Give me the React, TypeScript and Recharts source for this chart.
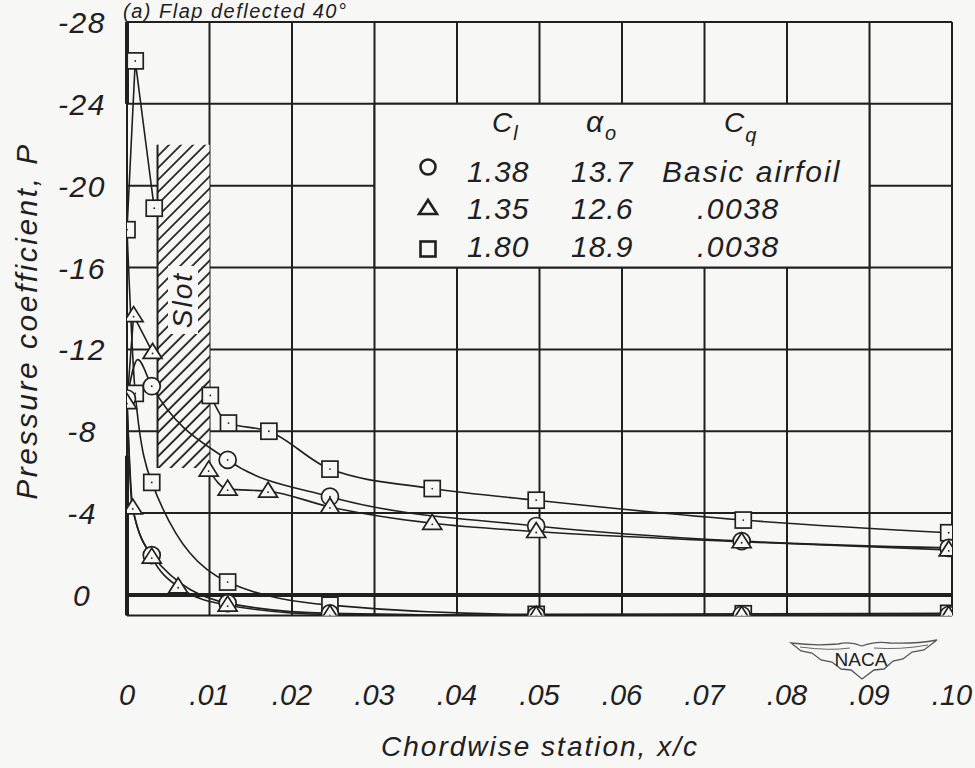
import React from 'react';
import {
  ComposedChart,
  Line,
  Scatter,
  XAxis,
  YAxis,
  CartesianGrid,
  ReferenceArea,
  ReferenceLine,
} from 'recharts';

type Pt = { x: number; p: number };

// ---- axes ----
const xTicks = [0, 0.01, 0.02, 0.03, 0.04, 0.05, 0.06, 0.07, 0.08, 0.09, 0.1];
const xTickLabels = ['0', '.01', '.02', '.03', '.04', '.05', '.06', '.07', '.08', '.09', '.10'];
const yTicks = [-28, -24, -20, -16, -12, -8, -4, 0];
const xDomain: [number, number] = [0, 0.1];
const yDomain: [number, number] = [-28, 1];

// ---- circles: C_l 1.38, alpha 13.7, basic airfoil ----
const circleUpper: Pt[] = [
  { x: 0, p: -9.6 },
  { x: 0.003, p: -10.2 },
  { x: 0.0122, p: -6.6 },
  { x: 0.0246, p: -4.8 },
  { x: 0.0496, p: -3.37 },
  { x: 0.0745, p: -2.63 },
  { x: 0.0996, p: -2.3 },
];
const circleLower: Pt[] = [
  { x: 0.003, p: -1.95 },
  { x: 0.0122, p: 0.4 },
  { x: 0.0246, p: 0.9 },
  { x: 0.0496, p: 1.0 },
  { x: 0.0745, p: 0.98 },
  { x: 0.0996, p: 0.98 },
];
// faired-curve points (no symbol)
const circleUpperTrace: Pt[] = [{ x: 0.0013, p: -11.5 }];
const circleLowerTrace: Pt[] = [{ x: 0.0006, p: -4.4 }];

// ---- triangles: C_l 1.35, alpha 12.6, Cq .0038 ----
const triangleNose: Pt[] = [
  { x: 0, p: -9.4 },
  { x: 0.0008, p: -13.65 },
  { x: 0.0031, p: -11.85 },
];
const triangleUpper: Pt[] = [
  { x: 0.0099, p: -6.1 },
  { x: 0.0122, p: -5.17 },
  { x: 0.0171, p: -5.07 },
  { x: 0.0246, p: -4.3 },
  { x: 0.037, p: -3.5 },
  { x: 0.0496, p: -3.1 },
  { x: 0.0745, p: -2.6 },
  { x: 0.0996, p: -2.2 },
];
const triangleLower: Pt[] = [
  { x: 0.0007, p: -4.25 },
  { x: 0.003, p: -1.85 },
  { x: 0.0062, p: -0.4 },
  { x: 0.0122, p: 0.5 },
  { x: 0.0246, p: 0.95 },
  { x: 0.0496, p: 1.0 },
  { x: 0.0745, p: 1.0 },
  { x: 0.0996, p: 1.0 },
];

// ---- squares: C_l 1.80, alpha 18.9, Cq .0038 ----
const squareNose: Pt[] = [
  { x: 0, p: -17.85 },
  { x: 0.001, p: -26.1 },
  { x: 0.0033, p: -18.9 },
];
const squareUpper: Pt[] = [
  { x: 0.0101, p: -9.75 },
  { x: 0.0123, p: -8.4 },
  { x: 0.0172, p: -8.0 },
  { x: 0.0246, p: -6.15 },
  { x: 0.037, p: -5.2 },
  { x: 0.0496, p: -4.63 },
  { x: 0.0747, p: -3.66 },
  { x: 0.0996, p: -3.04 },
];
const squareLower: Pt[] = [
  { x: 0.001, p: -9.85 },
  { x: 0.003, p: -5.5 },
  { x: 0.0122, p: -0.63 },
  { x: 0.0246, p: 0.5 },
  { x: 0.0496, p: 0.95 },
  { x: 0.0747, p: 0.92 },
  { x: 0.0996, p: 0.9 },
];

// ---- annotations ----
const slotX: [number, number] = [0.0037, 0.01];
const slotP: [number, number] = [-22, -6.2];
const legendBoxX: [number, number] = [0.03, 0.09];
const legendBoxP: [number, number] = [-24, -16];
const noseBarTop: [number, number] = [-28, -24];
const noseBarBottom: [number, number] = [-6.8, 1];

const legendCl = ['1.38', '1.35', '1.80'];
const legendAlpha = ['13.7', '12.6', '18.9'];
const legendCq = ['Basic airfoil', '.0038', '.0038'];

// ---- derived curve tables ----
const byX = (a: Pt[]) => [...a].sort((m, n) => m.x - n.x);
const circleUpperCurve = byX([...circleUpper, ...circleUpperTrace]);
const circleLowerCurve = byX([circleUpper[0], ...circleLowerTrace, ...circleLower]);
const triangleLowerCurve = [triangleNose[0], ...triangleLower];
const squareLowerCurve = [squareNose[0], ...squareLower];

const circleMarks = [...circleUpper, ...circleLower];
const triangleMarks = [...triangleNose, ...triangleUpper, ...triangleLower];
const squareMarks = [...squareNose, ...squareUpper, ...squareLower];

const INK = '#202020';
const BG = '#f7f7f6';
const FONT = '"Liberation Sans", Arial, sans-serif';

const CircleMark = (props: any) => {
  const { cx, cy } = props;
  return (
    <g>
      <circle cx={cx} cy={cy} r={8.5} fill={BG} stroke={INK} strokeWidth={1.7} />
      <circle cx={cx} cy={cy} r={0.9} fill={INK} />
    </g>
  );
};
const TriangleMark = (props: any) => {
  const { cx, cy } = props;
  return (
    <g>
      <polygon
        points={`${cx},${cy - 9} ${cx - 9.5},${cy + 6} ${cx + 9.5},${cy + 6}`}
        fill={BG}
        stroke={INK}
        strokeWidth={1.7}
        strokeLinejoin="miter"
      />
      <circle cx={cx} cy={cy + 1} r={0.9} fill={INK} />
    </g>
  );
};
const SquareMark = (props: any) => {
  const { cx, cy } = props;
  return (
    <g>
      <rect x={cx - 8} y={cy - 8} width={16} height={16} fill={BG} stroke={INK} strokeWidth={1.7} />
      <circle cx={cx} cy={cy} r={0.9} fill={INK} />
    </g>
  );
};

const XTick = (props: any) => {
  const { x, y, payload } = props;
  const i = xTicks.indexOf(payload.value);
  return (
    <text
      x={x}
      y={y + 88}
      textAnchor="middle"
      fontFamily={FONT}
      fontStyle="italic"
      fontSize={29}
      fill={INK}
    >
      {i >= 0 ? xTickLabels[i] : String(payload.value)}
    </text>
  );
};

const YTick = (props: any) => {
  const { x, y, payload } = props;
  return (
    <text
      x={x - 43}
      y={y + 11}
      textAnchor="middle"
      fontFamily={FONT}
      fontStyle="italic"
      fontSize={30}
      letterSpacing={1.5}
      fill={INK}
    >
      {String(payload.value)}
    </text>
  );
};

const lineProps = {
  dataKey: 'p',
  stroke: INK,
  strokeWidth: 1.6,
  dot: false,
  activeDot: false,
  isAnimationActive: false,
  connectNulls: false,
} as const;

export default function App() {
  const legendRowY = [182, 219, 257];
  const legendMarkY = [167, 208, 249];
  const txt = {
    fontFamily: FONT,
    fontStyle: 'italic' as const,
    fill: INK,
  };
  return (
    <div
      style={{
        position: 'absolute',
        left: 0,
        top: 0,
        width: 975,
        height: 768,
        background: BG,
        overflow: 'hidden',
      }}
    >
      <svg width={0} height={0} style={{ position: 'absolute' }}>
        <defs>
          <pattern
            id="slotHatch"
            patternUnits="userSpaceOnUse"
            width={8.5}
            height={8.5}
            patternTransform="rotate(45)"
          >
            <rect x={0} y={0} width={8.5} height={8.5} fill={BG} />
            <line x1={1} y1={0} x2={1} y2={8.5} stroke={INK} strokeWidth={1.8} />
          </pattern>
        </defs>
      </svg>
      <ComposedChart width={975} height={768} margin={{ top: 22, right: 23, bottom: 0, left: 0 }}>
        <CartesianGrid stroke={INK} strokeWidth={2} />
        <XAxis
          type="number"
          dataKey="x"
          domain={xDomain}
          ticks={xTicks}
          interval={0}
          allowDataOverflow
          height={152.6}
          axisLine={false}
          tickLine={false}
          tickSize={0}
          tick={<XTick />}
        />
        <YAxis
          type="number"
          dataKey="p"
          domain={yDomain}
          ticks={yTicks}
          interval={0}
          reversed
          allowDataOverflow
          width={127}
          axisLine={false}
          tickLine={false}
          tickSize={0}
          tick={<YTick />}
        />
        <ReferenceArea
          x1={slotX[0]}
          x2={slotX[1]}
          y1={slotP[0]}
          y2={slotP[1]}
          fill="url(#slotHatch)"
          fillOpacity={1}
          stroke="none"
        />
        <ReferenceLine
          segment={[
            { x: slotX[0], y: slotP[0] },
            { x: slotX[0], y: slotP[1] },
          ]}
          stroke={INK}
          strokeWidth={2}
        />
        <ReferenceArea
          x1={legendBoxX[0]}
          x2={legendBoxX[1]}
          y1={legendBoxP[0]}
          y2={legendBoxP[1]}
          fill={BG}
          fillOpacity={1}
          stroke={INK}
          strokeWidth={2}
        />

        <Line data={circleUpperCurve} type="monotoneX" {...lineProps} />
        <Line data={circleLowerCurve} type="monotoneX" {...lineProps} />
        <Line data={triangleNose} type="linear" {...lineProps} />
        <Line data={triangleUpper} type="monotoneX" {...lineProps} />
        <Line data={triangleLowerCurve} type="monotoneX" {...lineProps} />
        <Line data={squareNose} type="linear" {...lineProps} />
        <Line data={squareUpper} type="monotoneX" {...lineProps} />
        <Line data={squareLowerCurve} type="monotoneX" {...lineProps} />

        <ReferenceLine y={0} stroke={INK} strokeWidth={4} />
        <ReferenceLine
          segment={[
            { x: 0, y: noseBarTop[0] },
            { x: 0, y: noseBarTop[1] },
          ]}
          stroke={INK}
          strokeWidth={4}
        />
        <ReferenceLine
          segment={[
            { x: 0, y: noseBarBottom[0] },
            { x: 0, y: noseBarBottom[1] },
          ]}
          stroke={INK}
          strokeWidth={4}
        />

        <Scatter data={squareMarks} shape={SquareMark} isAnimationActive={false} />
        <Scatter data={circleMarks} shape={CircleMark} isAnimationActive={false} />
        <Scatter data={triangleMarks} shape={TriangleMark} isAnimationActive={false} />
      </ComposedChart>

      <svg
        width={975}
        height={768}
        style={{ position: 'absolute', left: 0, top: 0, pointerEvents: 'none' }}
      >
        {/* title (kept fully inside the page) */}
        <text x={123} y={18} fontSize={20} letterSpacing={1.5} {...txt}>
          (a)  Flap  deflected  40°
        </text>

        {/* axis titles */}
        <text
          x={37}
          y={321}
          fontSize={30}
          letterSpacing={2.5}
          textAnchor="middle"
          transform="rotate(-90, 37, 321)"
          {...txt}
        >
          Pressure  coefficient,  P
        </text>
        <text x={540} y={756} fontSize={28} letterSpacing={2} textAnchor="middle" {...txt}>
          Chordwise  station, x/c
        </text>

        {/* slot label */}
        <g transform="translate(192, 300) rotate(-90)">
          <rect x={-34} y={-24} width={68} height={30} fill={BG} />
          <text x={0} y={0} fontSize={28} letterSpacing={2} textAnchor="middle" {...txt}>
            Slot
          </text>
        </g>

        {/* legend table */}
        <text x={492} y={132} fontSize={28} {...txt}>
          C
          <tspan fontSize={20} dx={1} dy={8}>
            l
          </tspan>
        </text>
        <text x={586} y={132} fontSize={30} {...txt}>
          α
          <tspan fontSize={20} dx={2} dy={8}>
            o
          </tspan>
        </text>
        <text x={724} y={132} fontSize={28} {...txt}>
          C
          <tspan fontSize={20} dx={1} dy={10}>
            q
          </tspan>
        </text>

        <circle cx={428} cy={legendMarkY[0]} r={7.5} fill="none" stroke={INK} strokeWidth={2.6} />
        <polygon
          points={`428,${legendMarkY[1] - 8} 419,${legendMarkY[1] + 6} 437,${legendMarkY[1] + 6}`}
          fill="none"
          stroke={INK}
          strokeWidth={2.6}
        />
        <rect
          x={420.5}
          y={legendMarkY[2] - 7.5}
          width={15}
          height={15}
          fill="none"
          stroke={INK}
          strokeWidth={2.6}
        />
        {legendCl.map((s, i) => (
          <text key={'cl' + i} x={467} y={legendRowY[i]} fontSize={30} letterSpacing={1} {...txt}>
            {s}
          </text>
        ))}
        {legendAlpha.map((s, i) => (
          <text key={'al' + i} x={571} y={legendRowY[i]} fontSize={30} letterSpacing={1} {...txt}>
            {s}
          </text>
        ))}
        {legendCq.map((s, i) => (
          <text
            key={'cq' + i}
            x={i === 0 ? 662 : 697}
            y={legendRowY[i]}
            fontSize={30}
            letterSpacing={i === 0 ? 2 : 1.5}
            {...txt}
          >
            {s}
          </text>
        ))}

        {/* NACA emblem */}
        <path
          d="M 791 643 Q 815 646 838 644 Q 850 641 862 646 Q 875 641 890 643 Q 915 644 937 640 L 924 650 L 912 652 L 903 659 L 893 661 L 884 669 L 874 670 L 862 679 L 851 670 L 841 669 L 832 662 L 821 660 L 812 653 L 801 651 Z"
          fill="none"
          stroke="#555"
          strokeWidth={1.3}
        />
        <path d="M 800 647 Q 830 651 850 648 M 874 648 Q 900 650 928 645" fill="none" stroke="#666" strokeWidth={1} />
        <text x={861} y={666} fontSize={19} textAnchor="middle" fontFamily={FONT} fill={INK}>
          NACA
        </text>
      </svg>
    </div>
  );
}
